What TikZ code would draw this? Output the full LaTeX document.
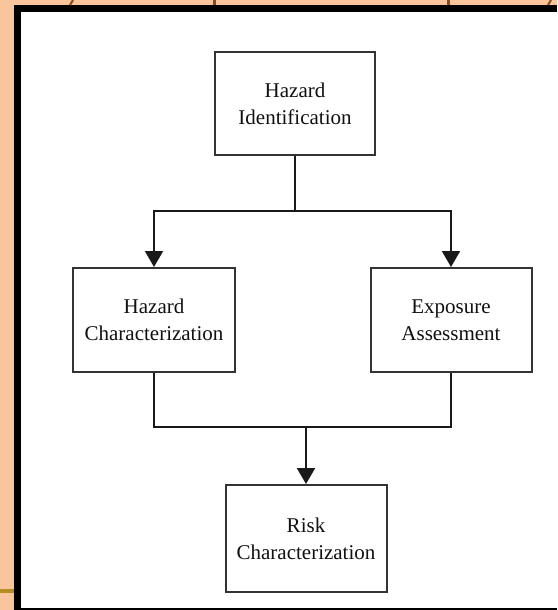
\documentclass[tikz,border=0pt]{standalone}
\usepackage{fontspec}
\setmainfont{Liberation Serif}
\usetikzlibrary{arrows.meta}
\definecolor{peach}{HTML}{FAC49C}
\definecolor{tickbrown}{HTML}{8A4A1E}
\definecolor{goldline}{HTML}{B48E22}
\definecolor{boxline}{HTML}{333333}
\definecolor{txt}{HTML}{111111}
\begin{document}
\begin{tikzpicture}[x=1pt,y=-1pt,
  procbox/.style={draw=boxline,line width=2pt,fill=white,rectangle,align=center,
    font=\fontsize{21}{27}\selectfont,text=txt,inner sep=0pt},
  conn/.style={draw=black!90,line width=2pt},
  arr/.style={conn,-{Triangle[width=18pt,length=16pt]}}]
% background and frame
\fill[peach] (0,0) rectangle (557,610);
\useasboundingbox (0,0) rectangle (557,610);
\fill[black] (14,5) rectangle (557,610);
\fill[white] (21,12) rectangle (557,608);
\fill[goldline] (0,589) rectangle (14,593);
\draw[tickbrown,line width=2pt] (73,0) -- (70,5);
\draw[tickbrown,line width=3pt] (214,0) -- (214,5);
\draw[tickbrown,line width=3pt] (448,0) -- (448,5);
\draw[tickbrown,line width=2pt] (551,0) -- (548,5);
% nodes
\node[procbox,minimum width=160pt,minimum height=103pt] (hi) at (295,103.5) {Hazard\\Identification};
\node[procbox,minimum width=162pt,minimum height=104pt] (hc) at (154,320) {Hazard\\Characterization};
\node[procbox,minimum width=161pt,minimum height=104pt] (ea) at (451,320) {Exposure\\Assessment};
\node[procbox,minimum width=161pt,minimum height=107pt] (rc) at (306,538.5) {Risk\\Characterization};
\coordinate (j1) at (295,211);
\coordinate (j2) at (306,427);
% connectors
\draw[conn] (hi.south) -- (j1);
\draw[arr] (j1) -| (hc.north);
\draw[arr] (j1) -| (ea.north);
\draw[conn] (hc.south) |- (j2);
\draw[conn] (ea.south) |- (j2);
\draw[arr] (j2) -- (rc.north);
\end{tikzpicture}
\end{document}
